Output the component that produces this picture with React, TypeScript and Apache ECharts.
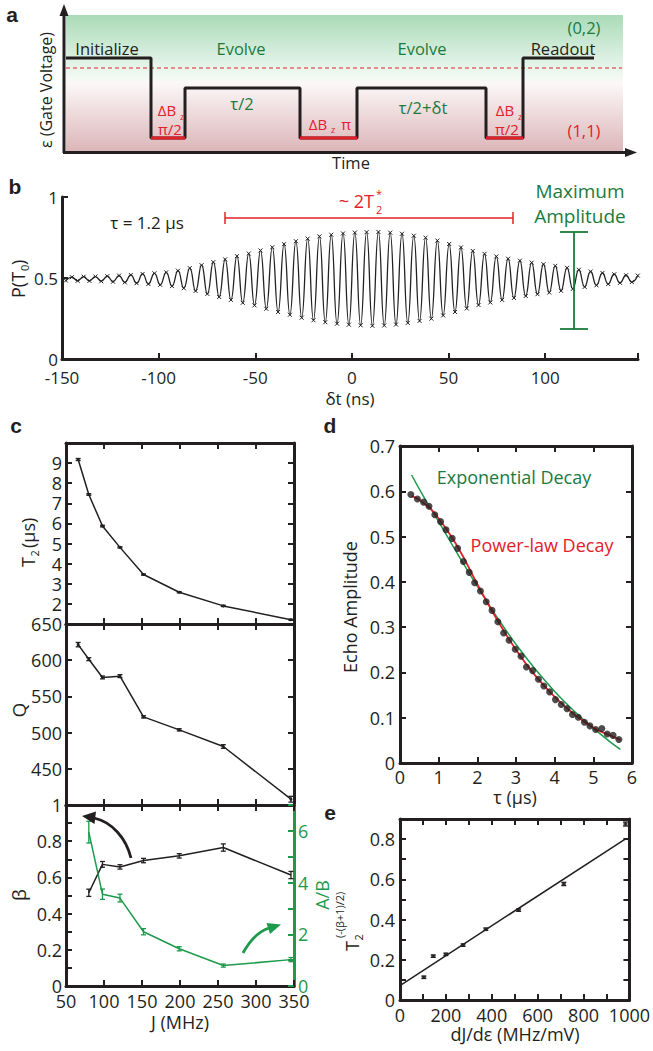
import React, { useEffect, useRef } from "react";
import * as echarts from "echarts";

const FONT = "'Open Sans', 'Noto Sans', sans-serif";
const INK = "#231f20";
const RED = "#e3202a";
const GREEN_TEXT = "#1b7a3e";
const GREEN_LINE = "#1d9a4b";

// ---------- Panel a (pulse schematic) ----------
const waveTimes = [2, 87, 87, 121, 121, 236, 236, 293, 293, 422, 422, 459, 459, 530];
const waveLevels = [94, 94, 14, 14, 64, 64, 14, 14, 64, 64, 14, 14, 94, 94];
const pulseStarts = [87, 236, 422];
const pulseEnds = [121, 293, 459];
const pulseLevel = 14;
const thresholdTimes = [2, 558];
const thresholdLevel = 84;

// ---------- Panel b (echo signal, extrema) ----------
const bTimes = [
  -148, -144.9, -141.9, -138.8, -135.8, -132.7, -129.7, -126.6, -123.6, -120.5,
  -117.5, -114.4, -111.4, -108.3, -105.3, -102.2, -99.2, -96.1, -93.1, -90,
  -87, -83.9, -80.9, -77.8, -74.8, -71.7, -68.7, -65.6, -62.6, -59.5,
  -56.5, -53.4, -50.4, -47.3, -44.3, -41.2, -38.2, -35.1, -32.1, -29,
  -26, -22.9, -19.9, -16.8, -13.8, -10.7, -7.7, -4.6, -1.6, 1.5,
  4.5, 7.6, 10.6, 13.7, 16.7, 19.8, 22.8, 25.9, 28.9, 32,
  35, 38.1, 41.1, 44.2, 47.2, 50.3, 53.3, 56.4, 59.4, 62.5,
  65.5, 68.6, 71.6, 74.7, 77.7, 80.8, 83.8, 86.9, 89.9, 93,
  96, 99.1, 102.1, 105.2, 108.2, 111.3, 114.3, 117.4, 120.4, 123.5,
  126.5, 129.6, 132.6, 135.7, 138.7, 141.8, 144.8, 147.9,
];
const bProb = [
  0.484, 0.505, 0.483, 0.508, 0.482, 0.509, 0.48, 0.511, 0.477, 0.515,
  0.473, 0.519, 0.468, 0.525, 0.463, 0.529, 0.458, 0.535, 0.45, 0.545,
  0.437, 0.561, 0.42, 0.579, 0.402, 0.598, 0.383, 0.615, 0.365, 0.635,
  0.347, 0.651, 0.331, 0.67, 0.31, 0.69, 0.29, 0.709, 0.273, 0.727,
  0.255, 0.743, 0.239, 0.757, 0.227, 0.767, 0.218, 0.775, 0.212, 0.78,
  0.208, 0.783, 0.205, 0.784, 0.207, 0.78, 0.213, 0.773, 0.223, 0.761,
  0.235, 0.749, 0.249, 0.731, 0.269, 0.71, 0.29, 0.689, 0.312, 0.667,
  0.333, 0.649, 0.349, 0.633, 0.365, 0.619, 0.377, 0.607, 0.389, 0.595,
  0.4, 0.585, 0.41, 0.575, 0.421, 0.563, 0.433, 0.551, 0.445, 0.54,
  0.455, 0.531, 0.463, 0.523, 0.47, 0.517, 0.475, 0.515,
];

// ---------- Panel c ----------
const cJ = [66, 80, 98, 121, 152, 199, 257, 346];
const cT2 = [9.18, 7.44, 5.87, 4.81, 3.46, 2.58, 1.9, 1.21];
const cT2Err = [0.05, 0.04, 0.04, 0.03, 0.03, 0.03, 0.03, 0.03];
const cQ = [621.5, 601.4, 576.2, 578, 521.7, 503.8, 480.8, 408];
const cQErr = [3, 2, 2, 2, 1.5, 1.5, 2.5, 4];
const betaJ = [80, 98, 121, 152, 199, 257, 346];
const beta = [0.515, 0.672, 0.658, 0.693, 0.719, 0.765, 0.613];
const betaErr = [0.02, 0.016, 0.012, 0.012, 0.012, 0.02, 0.02];
const ratioAB = [5.95, 3.55, 3.4, 2.1, 1.44, 0.79, 1.02];
const ratioErr = [0.42, 0.2, 0.15, 0.12, 0.08, 0.06, 0.08];

// ---------- Panel d ----------
const dTau = [0.28, 0.45, 0.61, 0.75, 0.9, 1.05, 1.19, 1.35, 1.49, 1.64, 1.79, 1.93, 2.08, 2.23, 2.38, 2.53, 2.68, 2.82, 2.98, 3.13, 3.27, 3.43, 3.58, 3.72, 3.87, 4.02, 4.17, 4.32, 4.46, 4.61, 4.77, 4.91, 5.06, 5.22, 5.36, 5.51, 5.66];
const dAmp = [0.593, 0.583, 0.576, 0.567, 0.548, 0.533, 0.515, 0.496, 0.474, 0.445, 0.421, 0.398, 0.38, 0.356, 0.337, 0.312, 0.287, 0.271, 0.251, 0.236, 0.212, 0.204, 0.185, 0.17, 0.157, 0.14, 0.129, 0.12, 0.107, 0.101, 0.09, 0.082, 0.074, 0.076, 0.064, 0.061, 0.052];
const powerTau = [0.3, 0.6, 1.0, 1.5, 2.0, 2.5, 3.0, 3.5, 4.0, 4.5, 5.0, 5.4, 5.7];
const powerAmp = [0.59, 0.575, 0.54, 0.476, 0.395, 0.318, 0.25, 0.193, 0.146, 0.108, 0.078, 0.062, 0.051];
const expTau = [0.3, 0.6, 1.0, 1.5, 2.0, 2.5, 3.0, 3.5, 4.0, 4.5, 5.0, 5.4, 5.7];
const expAmp = [0.636, 0.59, 0.533, 0.46, 0.39, 0.323, 0.262, 0.207, 0.158, 0.115, 0.077, 0.049, 0.03];

// ---------- Panel e ----------
const eSlope = [104, 145, 200, 275, 374, 517, 714, 983];
const eT2 = [0.113, 0.218, 0.227, 0.273, 0.352, 0.447, 0.577, 0.875];
const eErr = [0.006, 0.006, 0.006, 0.006, 0.006, 0.006, 0.008, 0.01];
const eFitX = [0, 985];
const eFitY = [0.072, 0.803];

const zip = (xs: number[], ys: number[]) => xs.map((x, i) => [x, ys[i]]);

const axLine = (color = INK) => ({ show: true, onZero: false, lineStyle: { color, width: 3 } });
const axTick = (color = INK) => ({ show: true, inside: true, length: 6, lineStyle: { color, width: 2 } });
const lab = (show: boolean, size = 18, extra: any = {}) => ({
  show, fontSize: size, fontFamily: FONT, color: INK, margin: 5, showMinLabel: true, showMaxLabel: true, ...extra,
});

function xAx(grid: number, min: number, max: number, interval: number, position: string, label: any) {
  return {
    type: "value", gridIndex: grid, min, max, interval, position,
    axisLine: axLine(), axisTick: axTick(), axisLabel: label, splitLine: { show: false },
  };
}
function yAx(grid: number, min: number, max: number, interval: number, position: string, label: any, color = INK) {
  return {
    type: "value", gridIndex: grid, min, max, interval, position,
    axisLine: axLine(color), axisTick: axTick(color), axisLabel: label, splitLine: { show: false },
  };
}

const evenTenths = (v: number) => (Math.round(v * 10) % 2 === 0 ? String(Math.round(v * 10) / 10) : "");

const lineS = (xi: number, yi: number, xs: number[], ys: number[], color: string, width: number, extra: any = {}) => ({
  type: "line", xAxisIndex: xi, yAxisIndex: yi, data: zip(xs, ys), symbol: "none",
  lineStyle: { color, width }, itemStyle: { color }, ...extra,
});

const errorBars = (xi: number, yi: number, xs: number[], ys: number[], es: number[], color: string, cap: number) => ({
  type: "custom", xAxisIndex: xi, yAxisIndex: yi, coordinateSystem: "cartesian2d",
  data: xs.map((x, i) => [x, ys[i], es[i]]),
  encode: { x: 0, y: 1 },
  z: 4,
  renderItem: (_p: any, api: any) => {
    const x = api.value(0), y = api.value(1), e = api.value(2);
    const p1 = api.coord([x, y + e]);
    const p2 = api.coord([x, y - e]);
    const st = { stroke: color, lineWidth: 1.3 };
    return {
      type: "group",
      children: [
        { type: "line", shape: { x1: p1[0], y1: p1[1], x2: p2[0], y2: p2[1] }, style: st },
        { type: "line", shape: { x1: p1[0] - cap, y1: p1[1], x2: p1[0] + cap, y2: p1[1] }, style: st },
        { type: "line", shape: { x1: p2[0] - cap, y1: p2[1], x2: p2[0] + cap, y2: p2[1] }, style: st },
      ],
    };
  },
});

const T = (x: number, y: number, s: string, size: number, color = INK, extra: any = {}) => ({
  type: "text", x, y, z: 100,
  style: { text: s, fontSize: size, fontFamily: FONT, fill: color, align: "center", verticalAlign: "middle", ...extra },
});
const L = (x1: number, y1: number, x2: number, y2: number, color: string, w: number) => ({
  type: "line", z: 50, shape: { x1, y1, x2, y2 }, style: { stroke: color, lineWidth: w },
});
const letter = (x: number, y: number, s: string) =>
  T(x, y, s, 21, INK, { fontWeight: "bold", fontFamily: "'Liberation Sans', Arial, sans-serif" });
const sub = (x: number, y: number, s: string, size: number, color = INK) => ({
  type: "text", x, y, style: { text: s, fontSize: size, fontFamily: FONT, fill: color, align: "left", verticalAlign: "middle" },
});

function buildOption() {
  const grid = [
    { left: 64, top: 15, width: 558, height: 137 },
    { left: 62, top: 197, width: 576, height: 162 },
    { left: 66, top: 443, width: 228, height: 181 },
    { left: 66, top: 624, width: 228, height: 181 },
    { left: 66, top: 805, width: 228, height: 181 },
    { left: 400, top: 446, width: 232, height: 317 },
    { left: 400, top: 819, width: 230, height: 181 },
  ];

  const xAxis: any[] = [
    { type: "value", gridIndex: 0, min: 0, max: 558, show: false },
    xAx(1, -150, 148, 50, "bottom", lab(true, 17, { margin: 10, formatter: (v: number) => (v % 50 === 0 ? String(v) : "") })),
    xAx(2, 50, 350, 50, "bottom", lab(false)),
    xAx(2, 50, 350, 50, "top", lab(false)),
    xAx(3, 50, 350, 50, "bottom", lab(false)),
    xAx(3, 50, 350, 50, "top", lab(false)),
    xAx(4, 50, 350, 50, "bottom", lab(true, 18, { margin: 6 })),
    xAx(4, 50, 350, 50, "top", lab(false)),
    xAx(5, 0, 6, 1, "bottom", lab(true, 18, { margin: 5 })),
    xAx(5, 0, 6, 1, "top", lab(false)),
    xAx(6, 0, 1000, 100, "bottom", lab(true, 18, { margin: 6, formatter: (v: number) => (v % 200 === 0 ? String(v) : "") })),
    xAx(6, 0, 1000, 100, "top", lab(false)),
  ];
  const yAxis: any[] = [
    { type: "value", gridIndex: 0, min: 0, max: 137, show: false },
    yAx(1, 0, 1, 0.5, "left", lab(true, 17, { margin: 4 })),
    yAx(2, 1, 10, 1, "left", lab(true, 18, { margin: 4, formatter: (v: number) => (v === 1 || v === 10 ? "" : String(v)) })),
    yAx(2, 1, 10, 1, "right", lab(false)),
    yAx(3, 400, 650, 50, "left", lab(true, 18, { margin: 4, formatter: (v: number) => (v === 400 ? "" : String(v)) })),
    yAx(3, 400, 650, 50, "right", lab(false)),
    yAx(4, 0, 1, 0.1, "left", lab(true, 18, { margin: 4, formatter: evenTenths })),
    yAx(4, 0, 7, 1, "right", lab(true, 18, { margin: 4, color: GREEN_LINE, formatter: (v: number) => (v % 2 === 0 ? String(v) : "") }), GREEN_LINE),
    yAx(5, 0, 0.7, 0.1, "left", lab(true, 18, { margin: 5 })),
    yAx(5, 0, 0.7, 0.1, "right", lab(false)),
    yAx(6, 0, 0.9, 0.1, "left", lab(true, 18, { margin: 5, formatter: evenTenths })),
    yAx(6, 0, 0.9, 0.1, "right", lab(false)),
  ];

  const series: any[] = [];
  // a
  series.push(lineS(0, 0, waveTimes, waveLevels, INK, 3, { z: 3 }));
  pulseStarts.forEach((s, i) => {
    series.push(lineS(0, 0, [s, pulseEnds[i]], [pulseLevel, pulseLevel], RED, 3.2, { z: 4 }));
  });
  series.push(lineS(0, 0, thresholdTimes, [thresholdLevel, thresholdLevel], RED, 1.2, {
    lineStyle: { color: RED, width: 1.2, type: [4, 3] }, z: 2,
  }));
  // b
  series.push({
    type: "line", xAxisIndex: 1, yAxisIndex: 1, data: zip(bTimes, bProb), smooth: true,
    symbol: "path://M0,0L10,10M10,0L0,10", symbolSize: 4, showSymbol: true, showAllSymbol: true,
    itemStyle: { color: "#222", borderColor: "#222", borderWidth: 1 },
    lineStyle: { color: "#222", width: 1.3 },
  });
  // c1
  series.push(lineS(2, 2, cJ, cT2, INK, 1.5, { symbol: "circle", symbolSize: 3 }));
  series.push(errorBars(2, 2, cJ, cT2, cT2Err, INK, 2.5));
  // c2
  series.push(lineS(4, 4, cJ, cQ, INK, 1.5, { symbol: "circle", symbolSize: 3 }));
  series.push(errorBars(4, 4, cJ, cQ, cQErr, INK, 2.5));
  // c3
  series.push(lineS(6, 6, betaJ, beta, INK, 1.5));
  series.push(errorBars(6, 6, betaJ, beta, betaErr, INK, 2.5));
  series.push(lineS(6, 7, betaJ, ratioAB, GREEN_LINE, 1.5));
  series.push(errorBars(6, 7, betaJ, ratioAB, ratioErr, GREEN_LINE, 2.5));
  // d
  series.push(lineS(8, 8, expTau, expAmp, GREEN_LINE, 1.5, { smooth: true, z: 3 }));
  series.push(lineS(8, 8, powerTau, powerAmp, RED, 1.8, { smooth: true, z: 4 }));
  series.push({
    type: "scatter", xAxisIndex: 8, yAxisIndex: 8, data: zip(dTau, dAmp), symbol: "circle", symbolSize: 7,
    itemStyle: { color: INK }, z: 6,
  });
  // e
  series.push(lineS(10, 10, eFitX, eFitY, INK, 1.5));
  series.push(errorBars(10, 10, eSlope, eT2, eErr, INK, 2.5));
  series.push({
    type: "scatter", xAxisIndex: 10, yAxisIndex: 10, data: zip(eSlope, eT2), symbol: "rect", symbolSize: [4, 3],
    itemStyle: { color: INK }, z: 6,
  });

  const rot = Math.PI / 2;
  const graphic: any[] = [
    // panel a background + axes
    {
      type: "rect", z: -10, shape: { x: 66, y: 15, width: 557, height: 136 },
      style: {
        fill: {
          type: "linear", x: 0, y: 0, x2: 0, y2: 1,
          colorStops: [
            { offset: 0, color: "#aadbb8" },
            { offset: 0.45, color: "#f1f9f3" },
            { offset: 0.5, color: "#fcf8f8" },
            { offset: 1, color: "#dcb6b9" },
          ],
        },
      },
    },
    L(64, 153, 64, 14, INK, 3),
    { type: "polygon", z: 50, shape: { points: [[64, 4], [59.5, 16], [68.5, 16]] }, style: { fill: INK } },
    L(63, 152.5, 626, 152.5, INK, 3),
    { type: "polygon", z: 50, shape: { points: [[637, 152.5], [625, 148], [625, 157]] }, style: { fill: INK } },
    letter(12, 14, "a"),
    { ...T(46, 90, "ε (Gate Voltage)", 16), rotation: rot },
    T(107, 48, "Initialize", 16.5),
    T(241, 48, "Evolve", 16.5, GREEN_TEXT),
    T(422, 48, "Evolve", 16.5, GREEN_TEXT),
    T(563, 48, "Readout", 16.5),
    T(584, 27, "(0,2)", 16.5, GREEN_TEXT),
    T(584, 130, "(1,1)", 16.5, RED),
    T(242, 103, "τ/2", 16.5, GREEN_TEXT),
    T(423, 107, "τ/2+δt", 16.5, GREEN_TEXT),
    T(167, 110, "ΔB", 15, RED),
    T(182, 116, "z", 9, RED),
    T(170, 129, "π/2", 15, RED),
    T(318, 124, "ΔB", 15, RED),
    T(333, 129, "z", 9, RED),
    T(346, 124, "π", 15, RED),
    T(505, 110, "ΔB", 15, RED),
    T(520, 116, "z", 9, RED),
    T(507, 129, "π/2", 15, RED),
    T(351, 162, "Time", 16.5),

    // panel b
    letter(15, 186, "b"),
    {
      type: "group", x: 18, y: 298, rotation: rot, z: 100,
      children: [sub(0, 0, "P(T", 18), sub(27, 6, "0", 11), sub(33, 0, ")", 18)],
    },
    T(350, 398, "δt (ns)", 17),
    T(147, 222, "τ = 1.2 µs", 17),
    L(225, 218, 513, 218, RED, 1.5),
    L(225, 212, 225, 224, RED, 1.5),
    L(513, 212, 513, 224, RED, 1.5),
    T(374, 201, "~ 2T", 18, RED, { align: "right" }),
    T(376, 209, "2", 11, RED, { align: "left" }),
    T(376, 193, "*", 11, RED, { align: "left" }),
    L(574, 232, 574, 329, GREEN_TEXT, 1.8),
    L(560, 232, 588, 232, GREEN_TEXT, 1.8),
    L(560, 329, 588, 329, GREEN_TEXT, 1.8),
    T(580, 191, "Maximum", 19, GREEN_TEXT),
    T(580, 216, "Amplitude", 19, GREEN_TEXT),

    // panel c
    letter(16, 425, "c"),
    {
      type: "group", x: 28, y: 567, rotation: rot, z: 100,
      children: [sub(0, 0, "T", 18), sub(10.5, 6, "2", 11), sub(19, 0, "(µs)", 18)],
    },
    { ...T(19, 710, "Q", 19), rotation: rot },
    { ...T(19, 895, "β", 19), rotation: rot },
    { ...T(322, 895, "A/B", 18, GREEN_LINE), rotation: rot },
    T(180, 1022, "J (MHz)", 18),
    { type: "bezierCurve", z: 50, shape: { x1: 131, y1: 858, cpx1: 126, cpy1: 838, cpx2: 112, cpy2: 822, x2: 94, y2: 818 }, style: { stroke: INK, lineWidth: 2.8, fill: "none" } },
    { type: "polygon", z: 50, shape: { points: [[82, 816], [96, 811.5], [94.5, 824]] }, style: { fill: INK } },
    { type: "bezierCurve", z: 50, shape: { x1: 243, y1: 953, cpx1: 249, cpy1: 942, cpx2: 257, cpy2: 932, x2: 269, y2: 928 }, style: { stroke: GREEN_LINE, lineWidth: 2.8, fill: "none" } },
    { type: "polygon", z: 50, shape: { points: [[281, 924.5], [270, 934], [266.5, 923]] }, style: { fill: GREEN_LINE } },

    // panel d
    letter(330, 425, "d"),
    { ...T(350, 607, "Echo Amplitude", 18), rotation: rot },
    T(514, 477, "Exponential Decay", 18, GREEN_TEXT),
    T(542, 545, "Power-law Decay", 18, RED),
    T(515, 797, "τ (µs)", 18),

    // panel e
    letter(330, 812, "e"),
    {
      type: "group", x: 352, y: 951, rotation: rot, z: 100,
      children: [sub(0, 0, "T", 18), sub(10.5, 6, "2", 11), sub(13, -13, "(-(β+1)/2)", 11)],
    },
    T(515, 1034, "dJ/dε (MHz/mV)", 18),
  ];

  return {
    animation: false,
    backgroundColor: "#ffffff",
    textStyle: { fontFamily: FONT },
    grid, xAxis, yAxis, series, graphic,
  };
}

export default function App() {
  const ref = useRef<HTMLDivElement>(null);
  useEffect(() => {
    const chart = echarts.init(ref.current as HTMLDivElement, null, { renderer: "svg" });
    chart.setOption(buildOption() as any);
    return () => chart.dispose();
  }, []);
  return <div ref={ref} style={{ position: "absolute", left: 0, top: 0, width: 653, height: 1051 }} />;
}
